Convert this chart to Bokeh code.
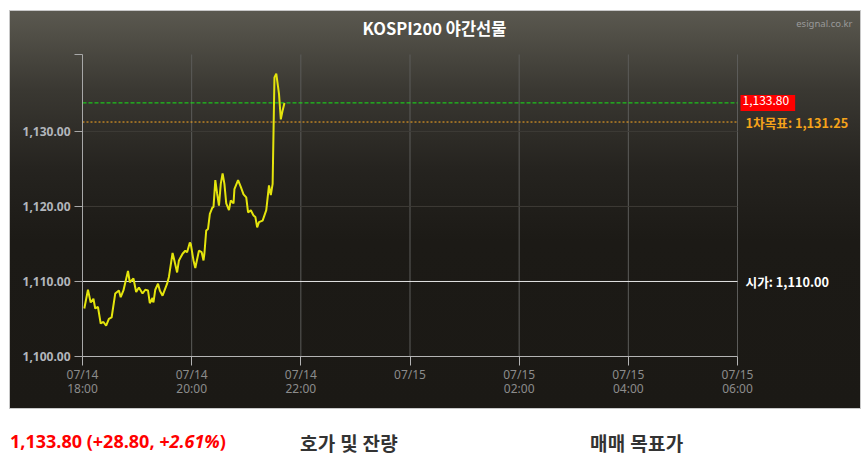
from bokeh.plotting import figure
from bokeh.models import Label, FixedTicker, Div, Range1d
from bokeh.layouts import column
from bokeh.embed import file_html
from bokeh.resources import INLINE

# ---------------- data ----------------
title_text = "KOSPI200 야간선물"
source_text = "esignal.co.kr"

# minutes after 07/14 18:00
minutes = [2, 6, 9, 12, 14, 17, 20, 23, 26, 29, 32, 36, 40, 42, 45, 50, 52, 56, 59, 62,
           66, 69, 72, 74, 77, 78, 80, 83, 85, 88, 93, 95, 99, 101, 104, 106, 110, 113, 115, 118,
           119, 122, 124, 128, 131, 133, 134, 136, 138, 140, 143, 144, 146, 148, 150, 152, 154, 156, 158, 161,
           163, 166, 167, 171, 174, 177, 180, 182, 185, 188, 190, 192, 194, 198, 202, 205, 207, 209, 211, 213,
           216, 218, 220, 222]
prices = [1106.4, 1108.9, 1107.2, 1107.7, 1106.4, 1106.6, 1104.4, 1104.6, 1104.1, 1105.0,
          1105.2, 1108.4, 1108.8, 1107.9, 1108.8, 1111.4, 1109.9, 1110.4, 1108.6, 1109.2,
          1108.4, 1108.9, 1108.8, 1107.1, 1107.8, 1107.2, 1108.9, 1109.7, 1108.8, 1108.1,
          1109.7, 1110.6, 1113.8, 1112.8, 1111.2, 1112.8, 1113.7, 1114.1, 1113.9, 1115.2,
          1115.0, 1112.8, 1111.8, 1114.1, 1113.9, 1112.8, 1113.7, 1116.8, 1117.0, 1119.0,
          1119.9, 1119.9, 1123.5, 1121.7, 1120.1, 1123.0, 1124.4, 1123.0, 1120.4, 1119.5,
          1120.8, 1120.4, 1122.3, 1123.5, 1122.6, 1121.6, 1121.2, 1119.2, 1119.5, 1118.8,
          1118.6, 1117.2, 1117.9, 1118.1, 1119.5, 1122.8, 1121.5, 1123.0, 1137.2, 1137.7,
          1135.0, 1131.6, 1132.8, 1133.8]

x_ticks = [0, 120, 240, 360, 480, 600, 720]
x_tick_labels = ["07/14\n18:00", "07/14\n20:00", "07/14\n22:00", "07/15",
                 "07/15\n02:00", "07/15\n04:00", "07/15\n06:00"]
y_ticks = [1100, 1110, 1120, 1130, 1140.25]
y_tick_labels = ["1,100.00", "1,110.00", "1,120.00", "1,130.00", ""]

last_price = 1133.80
last_price_label = "1,133.80"
target_price = 1131.25
target_label = "1차목표: 1,131.25"
open_price = 1110.00
open_label = "시가: 1,110.00"
summary_main = "1,133.80 (+28.80, "
summary_pct = "+2.61%"
section_titles = ["호가 및 잔량", "매매 목표가"]

KFONT = "Noto Sans CJK KR"

# ---------------- layout (pixels) ----------------
PLOT_W, PLOT_H = 852, 399
LEFT, BOTTOM = 73, 53
CHART_W, CHART_H = 655, 302          # area covered by the axes
FRAME_W, FRAME_H = PLOT_W - LEFT, PLOT_H - BOTTOM

x0, x1 = x_ticks[0], x_ticks[-1]
y0, y1 = y_ticks[0], y_ticks[-1]
x_end = x0 + (x1 - x0) * FRAME_W / CHART_W
y_end = y0 + (y1 - y0) * FRAME_H / CHART_H

p = figure(width=PLOT_W, height=PLOT_H,
           x_range=Range1d(x0, x_end), y_range=Range1d(y0, y_end),
           output_backend="svg", toolbar_location=None,
           min_border_left=LEFT, min_border_right=0,
           min_border_top=0, min_border_bottom=BOTTOM)
p.margin = (10, 0, 0, 9)
p.border_fill_color = None
p.background_fill_color = None
p.outline_line_color = None
p.grid.visible = False
p.styles = {
    "background": "linear-gradient(to bottom, #5b5950 0%, #3a3832 20%, #25231f 40%, #1c1a16 58%, #1b1915 100%)",
    "outline": "1px solid #c8c8c8",
    "outline-offset": "-1px",
}

# axes
xa = p.xaxis[0]
xa.ticker = FixedTicker(ticks=x_ticks)
xa.bounds = (x0, x1)
xa.major_label_overrides = {t: l for t, l in zip(x_ticks, x_tick_labels)}
xa.axis_line_color = "#b4b4b4"
xa.major_tick_line_color = "#b4b4b4"
xa.major_tick_out = 9
xa.major_tick_in = 0
xa.minor_tick_line_color = None
xa.major_label_text_color = "#8c8c8c"
xa.major_label_text_font = "Noto Sans"
xa.major_label_text_font_size = "12px"
xa.major_label_text_line_height = 0.85
xa.major_label_standoff = 0

ya = p.yaxis[0]
ya.ticker = FixedTicker(ticks=y_ticks)
ya.bounds = (y0, y1)
ya.major_label_overrides = {t: l for t, l in zip(y_ticks, y_tick_labels)}
ya.axis_line_color = "#a8a8a8"
ya.major_tick_line_color = "#a8a8a8"
ya.major_tick_out = 8
ya.major_tick_in = 0
ya.minor_tick_line_color = None
ya.major_label_text_color = "#b2b6bc"
ya.major_label_text_font = "Noto Sans"
ya.major_label_text_font_style = "bold"
ya.major_label_text_font_size = "12px"
ya.major_label_standoff = 4

# grid lines (limited to the chart area)
nx = len(x_ticks)
p.segment(x0=x_ticks[1:], y0=[y0] * (nx - 1), x1=x_ticks[1:], y1=[y1] * (nx - 1),
          line_color="#5c5c5a", line_width=1)
hy = y_ticks[2:-1]
p.segment(x0=[x0] * len(hy), y0=hy, x1=[x1] * len(hy), y1=hy,
          line_color="#3e3c37", line_width=1)

# reference lines
p.segment(x0=[x0], y0=[open_price], x1=[x1], y1=[open_price], line_color="#e6e6e6", line_width=1)
p.segment(x0=[x0], y0=[target_price], x1=[x1], y1=[target_price], line_color="#ffaa22",
          line_width=1, line_dash="2 2")
p.segment(x0=[x0], y0=[last_price], x1=[x1], y1=[last_price], line_color="#18e818",
          line_width=1, line_dash="4 2")

# price line
p.line(minutes, prices, line_color="#e4e40c", line_width=2)

# right side labels
p.add_layout(Label(x=x1, y=last_price, x_offset=3, text=last_price_label,
                   text_color="white", text_font=KFONT, text_font_size="12px",
                   text_baseline="middle", background_fill_color="#ff0000",
                   padding=(2, 6, 1, 6)))
p.add_layout(Label(x=x1, y=target_price, x_offset=8, text=target_label,
                   text_color="#f5a31a", text_font=KFONT, text_font_size="12.7px",
                   text_font_style="bold", text_baseline="middle"))
p.add_layout(Label(x=x1, y=open_price, x_offset=8, text=open_label,
                   text_color="#ffffff", text_font=KFONT, text_font_size="12.7px",
                   text_font_style="bold", text_baseline="middle"))

# title & source (screen units, measured from frame's bottom-left)
p.add_layout(Label(x=352, y=329, x_units="screen", y_units="screen", text=title_text,
                   text_color="#ffffff", text_font=KFONT, text_font_size="16.5px",
                   text_font_style="bold", text_align="center", text_baseline="middle"))
p.add_layout(Label(x=770, y=333, x_units="screen", y_units="screen", text=source_text,
                   text_color="#9a9a9a", text_font="Noto Sans", text_font_size="9.5px",
                   text_align="right", text_baseline="middle"))

# ---------------- bottom text ----------------
html = f"""
<div style="position:relative;width:868px;height:58px;">
  <span style="position:absolute;left:10px;top:20px;color:#ff0000;font-weight:bold;font-size:18px;
   font-family:'Open Sans',sans-serif;white-space:nowrap;">{summary_main}<i>{summary_pct}</i>)</span>
  <span style="position:absolute;left:300px;top:20px;color:#333333;font-weight:bold;font-size:19px;
   font-family:'{KFONT}',sans-serif;letter-spacing:0.3px;white-space:nowrap;">{section_titles[0]}</span>
  <span style="position:absolute;left:590px;top:20px;color:#333333;font-weight:bold;font-size:19px;
   font-family:'{KFONT}',sans-serif;letter-spacing:0.3px;white-space:nowrap;">{section_titles[1]}</span>
</div>
"""
div = Div(text=html, width=868, height=58, margin=(0, 0, 0, 0))

layout = column(p, div, margin=(0, 0, 0, 0), spacing=0)
open("out.html", "w").write(file_html(layout, INLINE))
